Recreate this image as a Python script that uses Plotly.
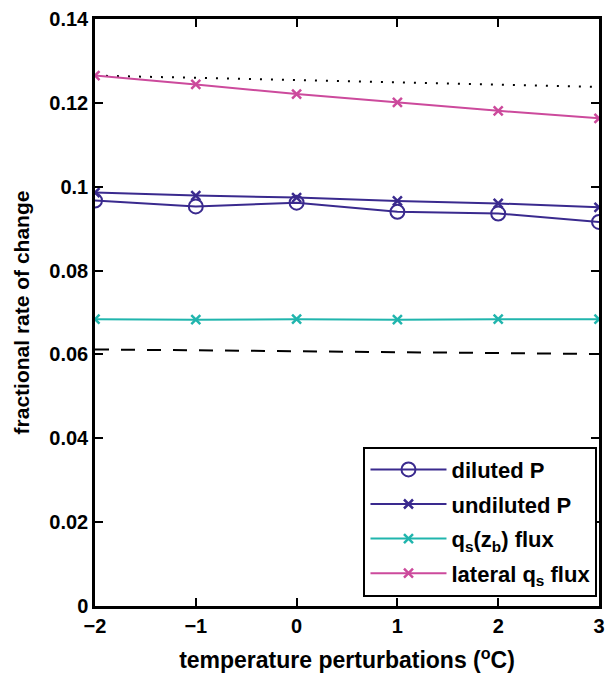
import plotly.graph_objects as go

temps = [-2, -1, 0, 1, 2, 3]
diluted_P = [0.0967, 0.0953, 0.0962, 0.0940, 0.0936, 0.0916]
undiluted_P = [0.0986, 0.0979, 0.0974, 0.0966, 0.0960, 0.0951]
qs_zb_flux = [0.0684, 0.0683, 0.0684, 0.0683, 0.0684, 0.0684]
lateral_qs_flux = [0.1265, 0.1244, 0.1221, 0.1201, 0.1181, 0.1163]
dotted_ref_x = [-2, 3]
dotted_ref = [0.1265, 0.1238]
dashed_ref_x = [-2, 3]
dashed_ref = [0.0612, 0.0601]

ytick_vals = [0, 0.02, 0.04, 0.06, 0.08, 0.1, 0.12, 0.14]
ytick_text = ["0", "0.02", "0.04", "0.06", "0.08", "0.1", "0.12", "0.14"]
xtick_vals = [-2, -1, 0, 1, 2, 3]
xtick_text = ["\u22122", "\u22121", "0", "1", "2", "3"]

purple = "#3a2a8e"
teal = "#20b5ad"
pink = "#cc4a9c"

fig = go.Figure()
fig.add_trace(go.Scatter(x=dotted_ref_x, y=dotted_ref, mode="lines",
                         line=dict(color="black", width=2, dash="2px,9px"), showlegend=False))
fig.add_trace(go.Scatter(x=dashed_ref_x, y=dashed_ref, mode="lines",
                         line=dict(color="black", width=2, dash="14px,12px"), showlegend=False))
fig.add_trace(go.Scatter(x=temps, y=diluted_P, mode="lines+markers", name="diluted P", legendgroup="a",
                         line=dict(color=purple, width=2),
                         marker=dict(symbol="circle-open", size=14, color=purple, line=dict(width=2, color=purple))))
fig.add_trace(go.Scatter(x=temps, y=undiluted_P, mode="lines+markers", name="undiluted P", legendgroup="b",
                         line=dict(color=purple, width=2),
                         marker=dict(symbol="x-thin-open", size=9, color=purple, line=dict(width=2.5, color=purple))))
fig.add_trace(go.Scatter(x=temps, y=qs_zb_flux, mode="lines+markers", name="q<sub>s</sub>(z<sub>b</sub>) flux", legendgroup="c",
                         line=dict(color=teal, width=2),
                         marker=dict(symbol="x-thin-open", size=9, color=teal, line=dict(width=2.5, color=teal))))
fig.add_trace(go.Scatter(x=temps, y=lateral_qs_flux, mode="lines+markers", name="lateral q<sub>s</sub> flux", legendgroup="d",
                         line=dict(color=pink, width=2),
                         marker=dict(symbol="x-thin-open", size=9, color=pink, line=dict(width=2.5, color=pink))))

font_family = "Liberation Sans, Arial, sans-serif"
axis_common = dict(showline=True, linecolor="black", linewidth=2.5, mirror="ticks",
                   ticks="inside", ticklen=8, tickwidth=1.5, tickcolor="black",
                   showgrid=False, zeroline=False,
                   tickfont=dict(family=font_family, size=20, color="black", weight="bold"))

fig.update_layout(
    width=613, height=679,
    margin=dict(l=95, r=8, t=14, b=73),
    paper_bgcolor="white", plot_bgcolor="white",
    font=dict(family=font_family, color="black", size=18, weight="bold"),
    xaxis=dict(range=[-2, 3], tickvals=xtick_vals, ticktext=xtick_text,
               title=dict(text="temperature perturbations (<sup>o</sup>C)",
                          font=dict(family=font_family, size=23, weight="bold"), standoff=17),
               **axis_common),
    yaxis=dict(range=[0, 0.14], tickvals=ytick_vals, ticktext=ytick_text,
               title=dict(text="fractional rate of change",
                          font=dict(family=font_family, size=21, weight="bold"), standoff=14),
               **axis_common),
    legend=dict(x=0.997, xanchor="right", y=0.016, yanchor="bottom",
                bgcolor="white", bordercolor="black", borderwidth=2,
                font=dict(family=font_family, size=22, color="black", weight="bold"),
                itemwidth=76, tracegroupgap=3),
)

fig.write_html("out.html")
